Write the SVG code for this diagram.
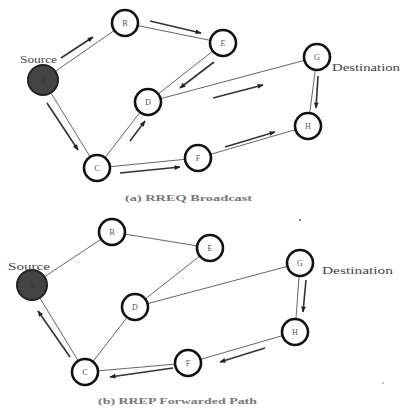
<svg xmlns="http://www.w3.org/2000/svg" width="401" height="408" viewBox="0 0 401 408">
<defs>
<marker id="ah" viewBox="0 0 10 10" refX="9" refY="5" markerWidth="7" markerHeight="6" orient="auto" markerUnits="userSpaceOnUse">
<path d="M0,1 L10,5 L0,9 Z" fill="#222"/>
</marker>
</defs>
<style>
.edge{stroke:#666;stroke-width:1;fill:none}
.arr{stroke:#333;stroke-width:1.6;fill:none;marker-end:url(#ah)}
.node{fill:#fff;stroke:#111;stroke-width:2.6}
.src{fill:#444;stroke:#222;stroke-width:2}
.lbl{font-family:"Liberation Serif",serif;font-size:8px;fill:#555;text-anchor:middle}
.slbl{font-family:"Liberation Serif",serif;font-size:8px;fill:#333;text-anchor:middle}
.txt{font-family:"Liberation Serif",serif;font-size:10px;fill:#444}
.cap{font-family:"Liberation Serif",serif;font-size:9px;font-weight:bold;fill:#777}
</style>
<rect width="401" height="408" fill="#fff"/>
<g id="connectors">
<line class="edge" x1="43" y1="80" x2="125" y2="23"/>
<line class="edge" x1="125" y1="23" x2="223" y2="43"/>
<line class="edge" x1="223" y1="43" x2="148" y2="102"/>
<line class="edge" x1="148" y1="102" x2="317" y2="57"/>
<line class="edge" x1="43" y1="80" x2="97" y2="168"/>
<line class="edge" x1="97" y1="168" x2="148" y2="102"/>
<line class="edge" x1="97" y1="168" x2="198" y2="158"/>
<line class="edge" x1="198" y1="158" x2="308" y2="126"/>
<line class="edge" x1="317" y1="57" x2="308" y2="126"/>
<line class="arr" x1="61" y1="58" x2="93" y2="37"/>
<line class="arr" x1="150" y1="21" x2="201" y2="33"/>
<line class="arr" x1="214" y1="62" x2="180" y2="88"/>
<line class="arr" x1="213" y1="98" x2="263" y2="85"/>
<line class="arr" x1="47" y1="103" x2="78" y2="150"/>
<line class="arr" x1="130" y1="141" x2="145" y2="121"/>
<line class="arr" x1="120" y1="173" x2="180" y2="167"/>
<line class="arr" x1="225" y1="147" x2="275" y2="132"/>
<line class="arr" x1="318" y1="76" x2="316" y2="108"/>
<line class="edge" x1="32" y1="285" x2="112" y2="232"/>
<line class="edge" x1="112" y1="232" x2="210" y2="248"/>
<line class="edge" x1="210" y1="248" x2="135" y2="307"/>
<line class="edge" x1="135" y1="307" x2="300" y2="263"/>
<line class="edge" x1="32" y1="285" x2="85" y2="372"/>
<line class="edge" x1="85" y1="372" x2="135" y2="307"/>
<line class="edge" x1="85" y1="372" x2="188" y2="363"/>
<line class="edge" x1="188" y1="363" x2="295" y2="332"/>
<line class="edge" x1="300" y1="263" x2="295" y2="332"/>
<line class="arr" x1="306" y1="280" x2="303" y2="312"/>
<line class="arr" x1="265" y1="348" x2="220" y2="362"/>
<line class="arr" x1="173" y1="368" x2="110" y2="377"/>
<line class="arr" x1="70" y1="357" x2="38" y2="311"/>
</g>
<g id="top-A"><circle class="src" cx="43" cy="80" r="15"/><text class="slbl" x="43" y="83">A</text></g>
<g id="top-B"><circle class="node" cx="125" cy="23" r="13"/><text class="lbl" x="125" y="26">B</text></g>
<g id="top-E"><circle class="node" cx="223" cy="43" r="13"/><text class="lbl" x="223" y="46">E</text></g>
<g id="top-D"><circle class="node" cx="148" cy="102" r="13"/><text class="lbl" x="148" y="105">D</text></g>
<g id="top-G"><circle class="node" cx="317" cy="57" r="13"/><text class="lbl" x="317" y="60">G</text></g>
<g id="top-H"><circle class="node" cx="308" cy="126" r="13"/><text class="lbl" x="308" y="129">H</text></g>
<g id="top-C"><circle class="node" cx="97" cy="168" r="13"/><text class="lbl" x="97" y="171">C</text></g>
<g id="top-F"><circle class="node" cx="198" cy="158" r="13"/><text class="lbl" x="198" y="161">F</text></g>
<text class="txt" x="20" y="63" textLength="37" lengthAdjust="spacingAndGlyphs">Source</text>
<text class="txt" x="332" y="71" textLength="68" lengthAdjust="spacingAndGlyphs">Destination</text>
<text class="cap" x="125" y="201" textLength="127" lengthAdjust="spacingAndGlyphs">(a) RREQ Broadcast</text>
<g id="bot-A"><circle class="src" cx="32" cy="285" r="15"/><text class="slbl" x="32" y="288">A</text></g>
<g id="bot-B"><circle class="node" cx="112" cy="232" r="13"/><text class="lbl" x="112" y="235">B</text></g>
<g id="bot-E"><circle class="node" cx="210" cy="248" r="13"/><text class="lbl" x="210" y="251">E</text></g>
<g id="bot-D"><circle class="node" cx="135" cy="307" r="13"/><text class="lbl" x="135" y="310">D</text></g>
<g id="bot-G"><circle class="node" cx="300" cy="263" r="13"/><text class="lbl" x="300" y="266">G</text></g>
<g id="bot-H"><circle class="node" cx="295" cy="332" r="13"/><text class="lbl" x="295" y="335">H</text></g>
<g id="bot-C"><circle class="node" cx="85" cy="372" r="13"/><text class="lbl" x="85" y="375">C</text></g>
<g id="bot-F"><circle class="node" cx="188" cy="363" r="13"/><text class="lbl" x="188" y="366">F</text></g>
<text class="txt" x="8" y="270" textLength="42" lengthAdjust="spacingAndGlyphs">Source</text>
<text class="txt" x="322" y="274" textLength="71" lengthAdjust="spacingAndGlyphs">Destination</text>
<text class="cap" x="98" y="404" textLength="159" lengthAdjust="spacingAndGlyphs">(b) RREP Forwarded Path</text>
<circle cx="300" cy="220" r="1" fill="#555"/>
<circle cx="383" cy="383" r="0.8" fill="#777"/>
</svg>
